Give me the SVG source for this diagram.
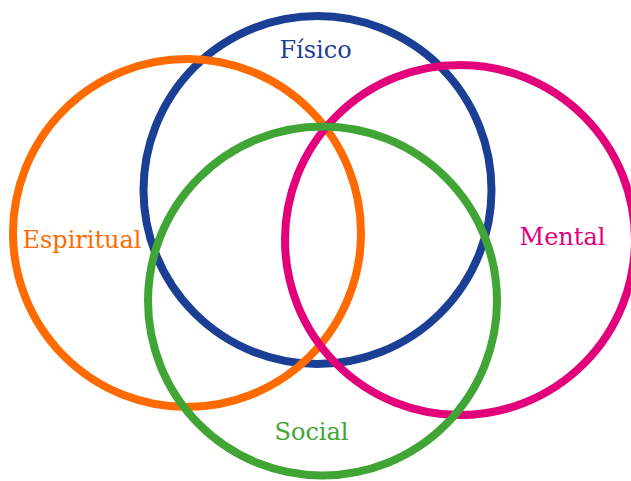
<svg xmlns="http://www.w3.org/2000/svg" width="631" height="481" viewBox="0 0 631 481">
  <style>
    .ring { fill: none; stroke-width: 8; }
    .lbl { font-family: "DejaVu Serif", "Liberation Serif", serif; font-size: 24px; text-anchor: middle; }
  </style>
  <rect width="631" height="481" fill="#ffffff"/>
  <g id="connectors"/>
  <!-- rings, bottom to top -->
  <g id="fisico">
    <circle class="ring" cx="317.5" cy="190" r="174" stroke="#1b3f95"/>
    <text class="lbl" x="315.5" y="58" fill="#1b3f95">Físico</text>
  </g>
  <g id="espiritual">
    <circle class="ring" cx="187" cy="233" r="174" stroke="#ff6b00"/>
    <text class="lbl" x="82" y="248" fill="#ff6b00">Espiritual</text>
  </g>
  <g id="mental">
    <circle class="ring" cx="460" cy="240" r="175" stroke="#e2007b"/>
    <text class="lbl" x="562.5" y="245" fill="#e2007b">Mental</text>
  </g>
  <g id="social">
    <circle class="ring" cx="322.5" cy="301" r="174.5" stroke="#41a535"/>
    <text class="lbl" x="311.5" y="440" fill="#41a535">Social</text>
  </g>
</svg>
